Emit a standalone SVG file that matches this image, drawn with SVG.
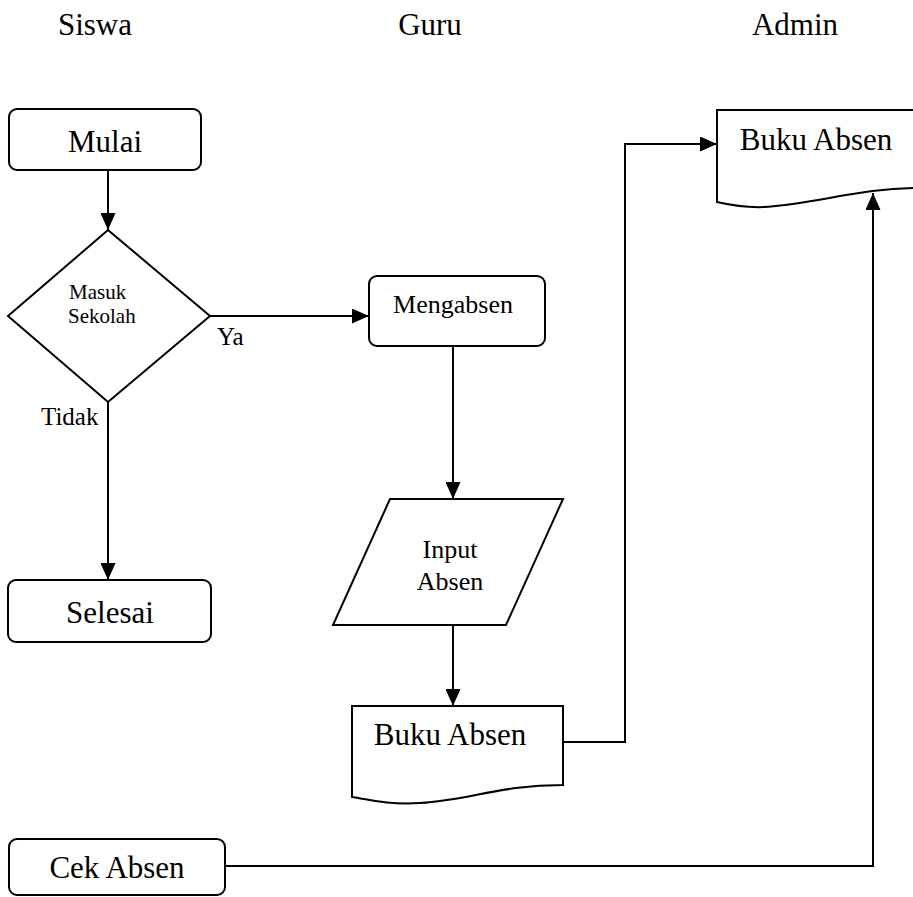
<svg xmlns="http://www.w3.org/2000/svg" width="913" height="897" viewBox="0 0 913 897">
<style>
text{font-family:"Liberation Serif","Times New Roman",serif;fill:#000}
.shape{fill:#fff;stroke:#000;stroke-width:2}
.line{fill:none;stroke:#000;stroke-width:2}
.big{font-size:31px}
.mid{font-size:26px}
.small{font-size:21px}
.lbl{font-size:25px}
</style>
<defs>
<marker id="arr" markerUnits="userSpaceOnUse" markerWidth="17" markerHeight="15" refX="17" refY="7.5" orient="auto">
<path d="M0,0 L17,7.5 L0,15 Z" fill="#000"/>
</marker>
</defs>
<g id="headers">
<text class="big" x="95" y="35" text-anchor="middle">Siswa</text>
<text class="big" x="430" y="35" text-anchor="middle">Guru</text>
<text class="big" x="795" y="35" text-anchor="middle">Admin</text>
</g>
<g id="connectors">
<line class="line" x1="108" y1="170" x2="108" y2="230" marker-end="url(#arr)"/>
<line class="line" x1="210" y1="316" x2="369" y2="316" marker-end="url(#arr)"/>
<line class="line" x1="108" y1="402" x2="108" y2="580" marker-end="url(#arr)"/>
<line class="line" x1="453" y1="346" x2="453" y2="499" marker-end="url(#arr)"/>
<line class="line" x1="453" y1="625" x2="453" y2="706" marker-end="url(#arr)"/>
<polyline class="line" points="563,742 625,742 625,144 717,144" marker-end="url(#arr)"/>
<polyline class="line" points="225,866 873,866 873,193" marker-end="url(#arr)"/>
<text class="lbl" x="217" y="345">Ya</text>
<text class="lbl" x="41" y="425">Tidak</text>
</g>
<g id="mulai">
<rect class="shape" x="9" y="109" width="192" height="61" rx="8"/>
<text class="big" x="105" y="152" text-anchor="middle">Mulai</text>
</g>
<g id="masuk-sekolah">
<polygon class="shape" points="108,230 210,316 108,402 8,316"/>
<text class="small" x="69" y="299">Masuk</text>
<text class="small" x="68" y="323">Sekolah</text>
</g>
<g id="selesai">
<rect class="shape" x="8" y="580" width="203" height="62" rx="8"/>
<text class="big" x="110" y="623" text-anchor="middle">Selesai</text>
</g>
<g id="mengabsen">
<rect class="shape" x="369" y="276" width="176" height="70" rx="8"/>
<text class="mid" x="453" y="313" text-anchor="middle">Mengabsen</text>
</g>
<g id="input-absen">
<polygon class="shape" points="390,499 563,499 506,625 333,625"/>
<text class="mid" x="450" y="558" text-anchor="middle">Input</text>
<text class="mid" x="450" y="590" text-anchor="middle">Absen</text>
</g>
<g id="buku-absen-guru">
<path class="shape" d="M352,706 H563 V785 C500,785 470,800 420,803 C390,805 370,800 352,797 Z"/>
<text class="big" x="450" y="745" text-anchor="middle">Buku Absen</text>
</g>
<g id="buku-absen-admin">
<path class="shape" d="M717,110 H920 V188 C860,188 820,203 765,207 C745,208 730,205 717,202 Z"/>
<text class="big" x="816" y="150" text-anchor="middle">Buku Absen</text>
</g>
<g id="cek-absen">
<rect class="shape" x="9" y="839" width="216" height="56" rx="8"/>
<text class="big" x="117" y="878" text-anchor="middle">Cek Absen</text>
</g>
</svg>
